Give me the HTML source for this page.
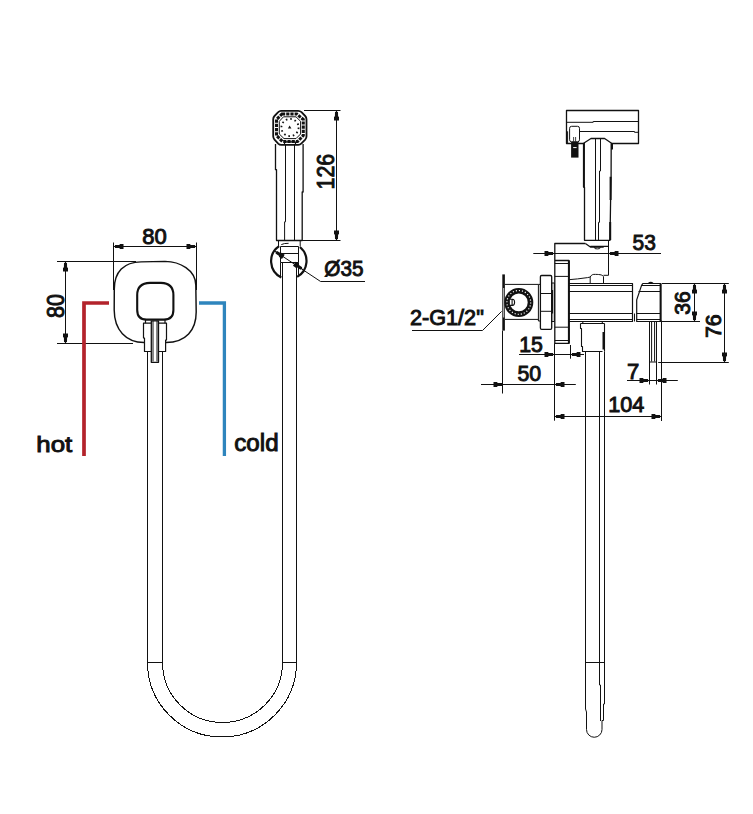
<!DOCTYPE html>
<html><head><meta charset="utf-8">
<style>
html,body{margin:0;padding:0;background:#fff;}
body{width:753px;height:814px;overflow:hidden;position:relative;}
svg{position:absolute;left:0;top:0;}
text{font-family:"Liberation Sans",sans-serif;font-weight:normal;fill:#111;stroke:#111;stroke-width:0.95px;}
</style></head><body>
<svg width="753" height="814" viewBox="0 0 753 814">
<defs><path id="ar" d="M0,0 L1.3,-0.6 L1.6,-1.5 L6,-1.6 L6.3,-2.5 L10,-2.5 L10,2.5 L6.3,2.5 L6,1.6 L1.6,1.5 L1.3,0.6 Z" fill="#111"/></defs>
<g fill="none" stroke="#111" stroke-width="1" stroke-linejoin="round">

<!-- ============ LEFT VIEW ============ -->
<path d="M113.5,246.5 L196.5,246.5 M113.5,242.5 L113.5,290 M196.5,242.5 L196.5,290"/>
<path d="M65.5,261.5 L65.5,343.5 M57,261.5 L136,261.5 M57,343.5 L133,343.5"/>

<!-- plate -->
<path stroke-width="1.45" d="M141,261.9 L165,261.4 C180,261.6 195.5,270 195.8,285 L196.2,312 C196.2,330 186,342.5 166,342.5 L144,342.5 C126,342.5 114.3,330 114.2,310 L114.3,289 C114.3,272 124,262 141,261.9 Z"/>
<!-- inner square -->
<path stroke-width="2.1" d="M150,282.9 L161,282.9 C169,283.2 173.4,287 173.4,295 L173.4,310 C173.4,316 170.5,319.6 164,319.6 L146.5,319.6 C140,319.6 137.2,316 137.2,310 L137.2,295 C137.2,287 141.5,283.2 150,282.9 Z"/>
<!-- handle -->
<path fill="#fff" stroke-width="1.2" d="M143.5,323.2 L166.5,323.2 L166.5,340 L165.6,340 L165.6,351.5 L144.5,351.5 L144.5,338 L143.5,338 Z"/>
<path stroke-width="1.2" d="M145.5,319.6 L145.5,323.2 M165,319.6 L165,323.2"/>
<rect x="151.3" y="320.8" width="7.2" height="41.5" fill="#fff" stroke-width="1.3"/>
<path d="M153,321 L153,361.5 M157,321 L157,361.5"/>

<!-- hose -->
<path shape-rendering="crispEdges" d="M147.5,351.5 L147.5,662.5 A74.5,74.5 0 0 0 296.5,662.5 L296.5,262.5"/>
<path shape-rendering="crispEdges" d="M162.5,351.5 L162.5,662.5 A60,60 0 0 0 282.5,662.5 L282.5,262.5"/>
<path d="M147.5,662.5 L162.5,662.5 M282.5,662.5 L296.5,662.5"/>

<!-- holder ring -->
<path stroke-width="2.2" d="M279.1,246.1 A18.2,18.2 0 0 0 281.3,277.5"/>
<path stroke-width="2.2" d="M299.9,247 A18.2,18.2 0 0 1 297.2,276.9"/>
<path fill="#fff" d="M280.5,246.5 L298.5,246.5 L298.5,262.5 L280.5,262.5 Z M280.5,253.5 L298.5,253.5"/>
<path d="M280.5,262.5 L280.5,277 M298.5,262.5 L298.5,275.5"/>
<path d="M278.5,240.5 L278.5,246.4 M300.2,240.5 L300.2,246.4 M281.3,244.6 Q284,243.2 288.6,243.3"/>
<path d="M274.6,251 L320.6,281.5 L365,281.5"/>
<!-- handset -->
<path stroke-width="1.3" d="M275.5,144 L275.5,169.7 L276.5,169.7 L276.5,240.5 L302.2,240.5 L302.2,192 L303.1,192 L303.1,144"/>
<path d="M285.5,144 L285.5,221.8 L284.6,221.8 L284.6,240.5 M294.5,144 L294.5,240.5"/>
<path d="M304,110.5 L340.5,110.5 M302,240.5 L340.5,240.5 M336.5,110.5 L336.5,240.5"/>
</g>

<!-- handset head -->
<g fill="none" stroke="#111">
<path stroke-width="1.8" stroke-linejoin="round" fill="#fff" d="M281,110.8 L298.2,110.8 Q300,110.8 301.5,112.2 L305.2,116 Q306.5,117.3 306.5,119.3 L306.5,136.3 Q306.5,138.2 305.2,139.6 L301.5,143.4 Q300,144.9 298.2,144.9 L281.3,144.9 Q279.5,144.9 278.2,143.6 L274.5,139.6 Q273.2,138.2 273.2,136.3 L273.2,119.3 Q273.2,117.3 274.5,116 L278.2,112.2 Q279.5,110.8 281,110.8 Z"/>
<path stroke-width="3" stroke-dasharray="3.2 1" d="M282,114 L296.8,114 L303.3,119.5 L303.3,135.5 L297.5,141.6 L282.5,141.6 L276.5,135.5 L276.5,119.5 Z"/>
<path stroke-width="1" d="M283.5,116.8 L296,116.8 L300.6,121.3 L300.6,134 L296,138.6 L284,138.6 L279.3,134 L279.3,121.3 Z"/>
<circle cx="290" cy="127.5" r="8.6" stroke-width="1.8" stroke-dasharray="1.6 2.9"/>
<path d="M289.6,125.5 L291.4,128.5 L287.9,128.5 Z" fill="#111" stroke="none"/>
<path stroke-width="1.2" d="M284.5,141.8 L295.5,141.8 M284.5,144.8 L284.5,141.8 M295.5,144.8 L295.5,141.8"/>
</g>

<!-- hot / cold pipes -->
<path d="M84,456 L84,303 L109,303" fill="none" stroke="#b3232b" stroke-width="3.7"/>
<path d="M199,303 L224.4,303 L224.4,456" fill="none" stroke="#2e85bd" stroke-width="3.3"/>

<!-- ============ RIGHT VIEW ============ -->
<g fill="none" stroke="#111" stroke-width="1" stroke-linejoin="round">
<!-- top box -->
<rect x="566.5" y="110.5" width="72" height="33" stroke-width="1.3"/>
<path d="M566.5,122.3 L593.2,122.3 L593.2,121.5 L638.5,121.5"/>
<path d="M580,131.5 L634.5,131.5 L634.5,132.3 L638.5,132.3"/>
<path d="M567.6,131.3 L567.6,143.3"/>
<!-- nozzle -->
<rect x="569.6" y="126.3" width="9.9" height="15.5" rx="2" fill="#fff"/>
<rect x="571.1" y="141.8" width="7.4" height="15.8" fill="#111" stroke="none"/>
<path stroke="#fff" stroke-width="1" d="M573.2,147.6 L576.6,147.6"/>
<path stroke-width="0.8" d="M573.6,137 L573.6,141.6 M575.6,137 L575.6,141.6"/>
<!-- handset side -->
<path fill="#fff" stroke-width="1.3" d="M584,143 L591,138.5 L604.6,138.5 L611.2,143 L611.1,176.8 L610.6,200 L610,240.3 L584.5,240.3 L584.5,187.3 L583.7,187.3 Z"/>
<path d="M595.5,138.5 L595.5,240.3 M600.5,138.5 L600.5,171 L599.5,171 L599.5,222.3 L598.5,222.3 L598.5,240.3"/>
<path stroke-width="1.2" d="M585.4,243.4 L590.4,247.1 L603.7,247.1 M590.4,246.4 L608.5,246.4"/>
<ellipse cx="597.3" cy="247.8" rx="3" ry="1.1"/>
<path stroke-width="2" d="M583.9,143 L583.9,187 M612,143 L612,149.6 M610.6,176.8 L610.6,200 M610.2,222 L610.2,240"/>

<!-- holder block -->
<path stroke-width="1.3" d="M585.4,243.5 L554.8,243.5 L554.8,343.4 L568.9,343.4 L568.9,260.5 L554.8,260.5"/>
<path stroke-width="2" d="M568.9,260.5 L568.9,343.4"/>
<path d="M608.5,240.5 L608.5,275.3 L603.5,275.3"/>
<path d="M568.9,279.7 L577.6,278.9 L587.6,277.6 L590.2,277 C591.5,274.6 593,274.2 595.5,274.4 C600,274.4 603.5,275 603.5,277 L603.5,283.7 M590.2,277 L590.2,283.7"/>
<path d="M554.8,263.5 L568.9,263.5 M554.8,276.4 L568.9,276.4 M554.8,327.2 L568.9,327.2 M554.8,340.5 L568.9,340.5"/>
<!-- nut -->
<rect x="540.4" y="275.5" width="11.3" height="53.8" rx="1.2" stroke-width="1.3"/>
<path d="M540.4,293.5 L551.7,293.5 M540.4,311.3 L551.7,311.3"/>
<path d="M538.4,284.4 L538.4,321 M538.4,284.4 L540.4,284.4 M538.4,321 L540.4,321"/>
<rect x="551.7" y="283" width="2.6" height="38.5" stroke-width="1"/>
<path stroke-width="1.6" d="M552.3,290 L552.3,313.5"/>
<path d="M505,284.4 L538.4,284.4 M505,319.4 L538.4,319.4"/>
<!-- body -->
<path stroke-width="1.2" d="M568.9,283.5 L632.5,283.5 L632.5,321.5 L568.9,321.5"/>
<path d="M568.9,285.5 L632.5,285.5 M568.9,291.5 L632.5,291.5 M568.9,313.5 L632.5,313.5 M568.9,319.5 L632.5,319.5"/>
<path d="M634.5,313.5 L634.5,321.5"/>
<!-- outlet -->
<path stroke-width="1.2" d="M642.7,283.5 L660.6,283.5 L660.6,321.5 L636.7,321.5 L636.7,299.9 L641.4,285.9 L642.7,283.5"/>
<path stroke-width="2" d="M660.6,283.5 L660.6,321.5"/>
<path d="M641.4,285.5 L660.6,285.5 M638.5,291.5 L660.6,291.5 M636.7,313.5 L660.6,313.5 M636.7,319.5 L660.6,319.5"/>
<path d="M648.5,283.2 Q650.7,281.6 653,283.2" stroke-width="1.2"/>
<path d="M649.5,321.5 L649.5,384.5 M656.5,321.5 L656.5,384.5 M651.6,321.5 L651.6,361.5 M654.6,321.5 L654.6,361.5 M649.5,362 L656.5,362"/>
<!-- hose connector under body -->
<path stroke-width="1.1" d="M582.8,321.5 L582.8,323.5 M602.3,321.5 L602.3,323.5"/>
<path stroke-width="1.1" d="M580.5,323.5 L604.5,323.5 M580.5,323.5 L580.5,328.5 L581.5,328.5 L581.5,346.5 L582.5,346.5 L582.5,351.5 L602.5,351.5 M604.5,323.5 L604.5,351.5"/>
<path stroke-width="2" d="M603.5,332 L603.5,349.5"/>
<!-- hose right view -->
<path d="M585.5,351.5 L585.5,709 L586.5,712 L586.5,729.5 A7.75,7.75 0 0 0 602,729.5 L602,720.5 L603.5,720.5 L603.5,704 L604.5,704 L604.5,351.5"/>
<path d="M599.5,351.5 L599.5,685 L600.5,685 L600.5,721"/>
<path d="M585.5,662.5 L604.5,662.5"/>

<!-- wall & connection -->
<path stroke-width="2.6" d="M503.6,274.4 L503.6,330.6"/>
<path stroke="#fff" stroke-width="0.8" d="M503.7,288 L503.7,317.5"/>
<path d="M502.5,330.6 L502.5,393.5"/>
<circle cx="518.8" cy="302.4" r="11.7" fill="#fff" stroke="#111" stroke-width="5.6"/>
<circle cx="518.8" cy="302.4" r="11.9" fill="none" stroke="#fff" stroke-width="1.2" stroke-dasharray="1.1 2"/>
<path d="M509.3,299.3 L512.5,299.3 Q514.6,299.3 514.6,302.3 Q514.6,305.4 512.5,305.4 L509.3,305.4 Z M512.1,299.3 L512.1,305.4" fill="#fff" stroke-width="1.1"/>
<path d="M412,330.5 L482.5,330.5 L501.6,311.4"/>

<!-- dims right -->
<path d="M533.3,253.5 L661,253.5"/>
<path d="M661.9,283.5 L728.8,283.5 M662,321.5 L700,321.5 M658.2,362.5 L728.8,362.5"/>
<path d="M694.5,283.5 L694.5,321.5 M724.5,283.5 L724.5,362.5"/>
<path d="M519,354.5 L584,354.5 M570.5,345 L570.5,358.7 M554.5,343.4 L554.5,420.7"/>
<path d="M481,384.5 L575.8,384.5"/>
<path d="M627,380.5 L677.8,380.5"/>
<path d="M554.5,416.5 L661.5,416.5 M661.5,320.6 L661.5,421"/>
</g>

<g>
<use href="#ar" transform="translate(113.5,246.5) rotate(0)"/>
<use href="#ar" transform="translate(196.5,246.5) rotate(180)"/>
<use href="#ar" transform="translate(65.5,261.5) rotate(90)"/>
<use href="#ar" transform="translate(65.5,343.5) rotate(-90)"/>
<use href="#ar" transform="translate(336.5,110.5) rotate(90)"/>
<use href="#ar" transform="translate(336.5,240.5) rotate(-90)"/>
<use href="#ar" transform="translate(275,251.3) rotate(33.5)"/>
<use href="#ar" transform="translate(302.7,269.3) rotate(213.5)"/>
<use href="#ar" transform="translate(554.5,253.5) rotate(180)"/>
<use href="#ar" transform="translate(608.5,253.5) rotate(0)"/>
<use href="#ar" transform="translate(694.5,283.5) rotate(90)"/>
<use href="#ar" transform="translate(694.5,321.5) rotate(-90)"/>
<use href="#ar" transform="translate(724.5,283.5) rotate(90)"/>
<use href="#ar" transform="translate(724.5,362.5) rotate(-90)"/>
<use href="#ar" transform="translate(554.5,354.5) rotate(180)"/>
<use href="#ar" transform="translate(570.5,354.5) rotate(0)"/>
<use href="#ar" transform="translate(503.5,384.5) rotate(180)"/>
<use href="#ar" transform="translate(554.5,384.5) rotate(0)"/>
<use href="#ar" transform="translate(649.5,380.5) rotate(180)"/>
<use href="#ar" transform="translate(656.5,380.5) rotate(0)"/>
<use href="#ar" transform="translate(554.5,416.5) rotate(0)"/>
<use href="#ar" transform="translate(661.5,416.5) rotate(180)"/>
</g>

<text x="142.18" y="243.52" font-size="22.08" textLength="24.49" lengthAdjust="spacingAndGlyphs">80</text>
<text transform="translate(63.50,317.89) rotate(-90)" font-size="23.63" textLength="23.84" lengthAdjust="spacingAndGlyphs">80</text>
<text transform="translate(334.30,189.45) rotate(-90)" font-size="23.49" textLength="35.62" lengthAdjust="spacingAndGlyphs">126</text>
<text x="324.33" y="276.19" font-size="22.26" textLength="39.24" lengthAdjust="spacingAndGlyphs">Ø35</text>
<text x="36.25" y="451.81" font-size="22.94" textLength="35.95" lengthAdjust="spacingAndGlyphs">hot</text>
<text x="234.30" y="450.50" font-size="23.61" textLength="44.30" lengthAdjust="spacingAndGlyphs">cold</text>
<text x="632.52" y="249.52" font-size="22.08" textLength="23.30" lengthAdjust="spacingAndGlyphs">53</text>
<text transform="translate(689.62,314.68) rotate(-90)" font-size="21.94" textLength="23.52" lengthAdjust="spacingAndGlyphs">36</text>
<text transform="translate(721.22,338.00) rotate(-90)" font-size="21.51" textLength="23.75" lengthAdjust="spacingAndGlyphs">76</text>
<text x="409.98" y="324.62" font-size="21.99" textLength="73.87" lengthAdjust="spacingAndGlyphs">2-G1/2&quot;</text>
<text x="519.26" y="352.12" font-size="21.82" textLength="23.68" lengthAdjust="spacingAndGlyphs">15</text>
<text x="517.41" y="380.61" font-size="22.36" textLength="23.73" lengthAdjust="spacingAndGlyphs">50</text>
<text x="626.96" y="378.96" font-size="22.61" textLength="12.30" lengthAdjust="spacingAndGlyphs">7</text>
<text x="608.23" y="411.72" font-size="22.22" textLength="36.13" lengthAdjust="spacingAndGlyphs">104</text>
</svg>
</body></html>
